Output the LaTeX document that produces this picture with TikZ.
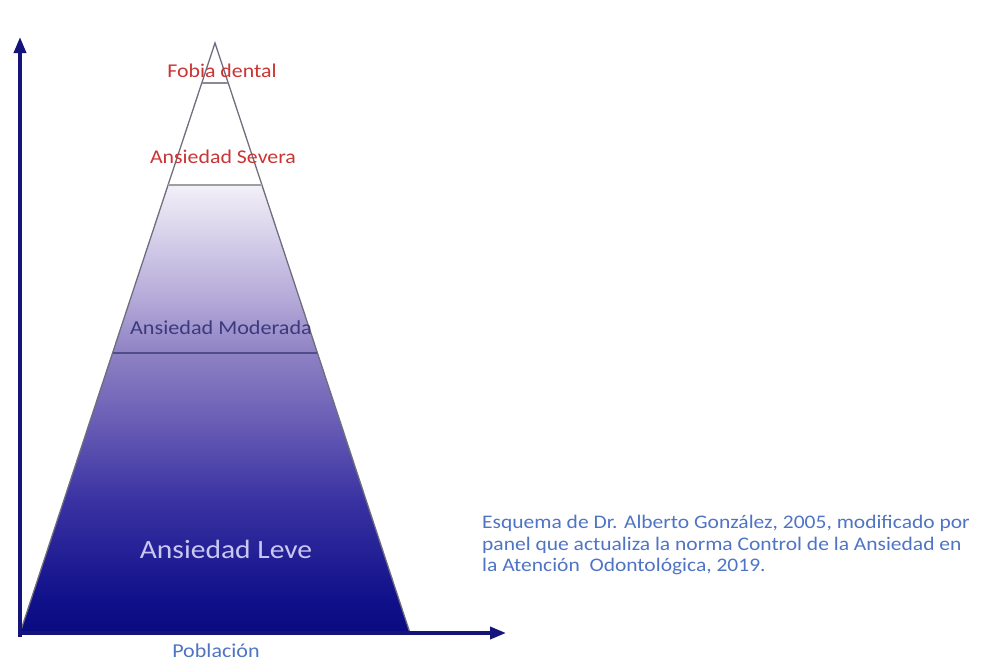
\documentclass[tikz,border=0pt]{standalone}
\usepackage{fontspec}
\setmainfont{Carlito}[FakeStretch=1.12]
\usepackage{tikz}
\usetikzlibrary{calc, positioning}
\usetikzlibrary{arrows.meta}

\definecolor{axisnavy}{HTML}{14147A}
\definecolor{levelred}{HTML}{CC3333}
\definecolor{notesblue}{HTML}{4F74C4}
\definecolor{modtext}{HTML}{3B3A7E}
\definecolor{levetext}{HTML}{C8C8F2}
\definecolor{edgegray}{HTML}{6E6E7E}
\definecolor{shA}{HTML}{0A0A80}
\definecolor{shB}{HTML}{10108A}
\definecolor{shC}{HTML}{3A32A2}
\definecolor{shD}{HTML}{6A5EB6}
\definecolor{shE}{HTML}{8E82C4}
\definecolor{shF}{HTML}{B4A9D8}
\definecolor{shG}{HTML}{F2F0F8}
\pgfdeclareverticalshading{anxiety}{100bp}{color(0bp)=(shA); color(25bp)=(shA);
  color(28.7bp)=(shB); color(39.8bp)=(shC); color(48.8bp)=(shD);
  color(56.3bp)=(shE); color(62.2bp)=(shF); color(75bp)=(shG); color(100bp)=(shG)}

\begin{document}
\begin{tikzpicture}[x=1pt,y=-1pt,inner sep=0pt]
    \tikzstyle{axis}=[-{Triangle[length=16pt,width=12pt]},line width=3.6pt,color=axisnavy]
    \tikzstyle{level}=[text=levelred,font=\fontsize{19.5}{23}\selectfont]
    \tikzstyle{divider}=[line width=2.8pt]
      \useasboundingbox (0,0) rectangle (1007,662);
      \coordinate (apex)  at (215,43);
      \coordinate (baseL) at (20,633);
      \coordinate (baseR) at (410,633);
      \coordinate (origin) at (20,637);
      \coordinate (ytip)  at (20,37);
      \coordinate (xtip)  at (506,633);

      % pyramid: white tip, shaded body
      \fill[white] (apex) -- (baseL) -- (baseR) -- cycle;
      \shade[shading=anxiety] ($(apex)!0.2407!(baseL)$) -- (baseL) -- (baseR) -- ($(apex)!0.2407!(baseR)$) -- cycle;
      \draw[edgegray,line width=1.3pt] (baseL) -- (apex) -- (baseR);

      \draw[divider,color=edgegray!80] ($(apex)!0.0678!(baseL)$) -- ($(apex)!0.0678!(baseR)$);
      \draw[divider,color=gray!75] ($(apex)!0.2407!(baseL)$) -- ($(apex)!0.2407!(baseR)$);
      \draw[divider,color=modtext!90] ($(apex)!0.5254!(baseL)$) -- ($(apex)!0.5254!(baseR)$);

      \draw[axis] (origin) -- (ytip);
      \draw[axis] (baseL) -- (xtip);

      \node[level] (fobia)  at (222,71)  {Fobia dental};
      \node[level] (severa) at (223,157) {Ansiedad Severa};
      \node[text=modtext,font=\fontsize{19.8}{23}\selectfont] (moderada) at (221,328) {Ansiedad Moderada};
      \node[text=levetext,font=\fontsize{26.4}{30}\selectfont] (leve) at (226,549) {Ansiedad Leve};
      \node[text=notesblue,font=\fontsize{19.7}{23}\selectfont] (poblacion) at (216,651) {Población};
      \node[text=notesblue,font=\fontsize{19.2}{21.5}\selectfont,align=left,anchor=west] (fuente) at (482,545)
        {Esquema de Dr. Alberto González, 2005, modificado por\\
         panel que actualiza la norma Control de la Ansiedad en\\
         la Atención\ \ Odontológica, 2019.};
    \end{tikzpicture}
\end{document}
